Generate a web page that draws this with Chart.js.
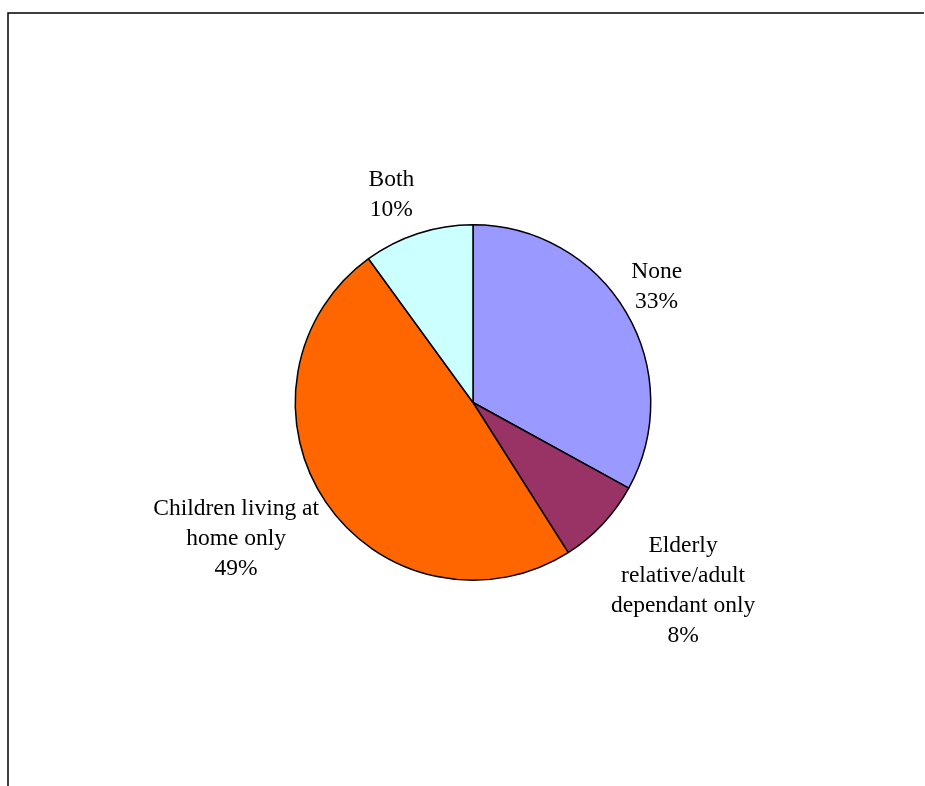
<!DOCTYPE html>
<html>
<head>
<meta charset="utf-8">
<script src="https://cdn.jsdelivr.net/npm/chart.js@4.4.1/dist/chart.umd.min.js"></script>
<style>
  html, body { margin: 0; padding: 0; background: #fff; }
  #wrap { width: 925px; height: 786px; position: relative; }
</style>
</head>
<body>
<div id="wrap"><canvas id="careChart"></canvas></div>
<script>
// categories, as they wrap in the original labels
const categories = [
    ["None"],
    ["Elderly", "relative/adult", "dependant only"],
    ["Children living at", "home only"],
    ["Both"]
];
const shares = [33, 8, 49, 10];
const sliceColors = ["#9999FF", "#993366", "#FF6600", "#CCFFFF"];

const frameLines = {
    id: "frameLines",
    beforeDraw(chart) {
        const ctx = chart.ctx;
        ctx.save();
        ctx.fillStyle = "#fff";
        ctx.fillRect(0, 0, chart.width, chart.height);
        ctx.strokeStyle = "#000";
        ctx.lineWidth = 1.5;
        ctx.beginPath();
        ctx.moveTo(8, chart.height);
        ctx.lineTo(8, 13);
        ctx.lineTo(chart.width - 1, 13);
        ctx.stroke();
        ctx.restore();
    }
};

// label box corner nearest the pie sits on the slice's middle ray,
// with a little hand tweak per label (x, y) to match the original best-fit
const labelTweak = [[0, 8], [4, 3], [-2, -12], [-2, -3]];
const sliceLabels = {
    id: "sliceLabels",
    afterDraw(chart) {
        const ctx = chart.ctx;
        const arcs = chart.getDatasetMeta(0).data;
        const lineH = 30;
        ctx.save();
        ctx.font = "23.5px 'Liberation Serif', 'Times New Roman', serif";
        ctx.fillStyle = "#000";
        ctx.textAlign = "center";
        ctx.textBaseline = "middle";
        arcs.forEach(function (arc, i) {
            const lines = categories[i].concat([shares[i] + "%"]);
            const mid = (arc.startAngle + arc.endAngle) / 2;
            const cos = Math.cos(mid), sin = Math.sin(mid);
            const w = Math.max.apply(null, lines.map(function (t) { return ctx.measureText(t).width; }));
            const h = lines.length * lineH;
            const d = arc.outerRadius + 6;
            const px = arc.x + cos * d;
            const py = arc.y + sin * d;
            const cx = (cos >= 0 ? px + w / 2 : px - w / 2) + labelTweak[i][0];
            const top = (sin >= 0 ? py : py - h) + labelTweak[i][1];
            lines.forEach(function (t, k) {
                ctx.fillText(t, cx, top + lineH / 2 + k * lineH);
            });
        });
        ctx.restore();
    }
};

const careChart = document.getElementById("careChart").getContext("2d");
new Chart(careChart, {
    type: "pie",
    data: {
        labels: categories.map(function (c) { return c.join(" "); }),
        datasets: [
            {
                label: "",
                data: shares,
                backgroundColor: sliceColors,
                borderColor: "#000",
                borderWidth: 1.5,
            },
        ],
    },
    options: {
        responsive: true,
        maintainAspectRatio: false,
        animation: false,
        layout: {
            padding: { top: 224, bottom: 205, left: 100, right: 79 },
        },
        plugins: {
            legend: { display: false },
            tooltip: { enabled: false },
        },
    },
    plugins: [frameLines, sliceLabels],
});
</script>
</body>
</html>
